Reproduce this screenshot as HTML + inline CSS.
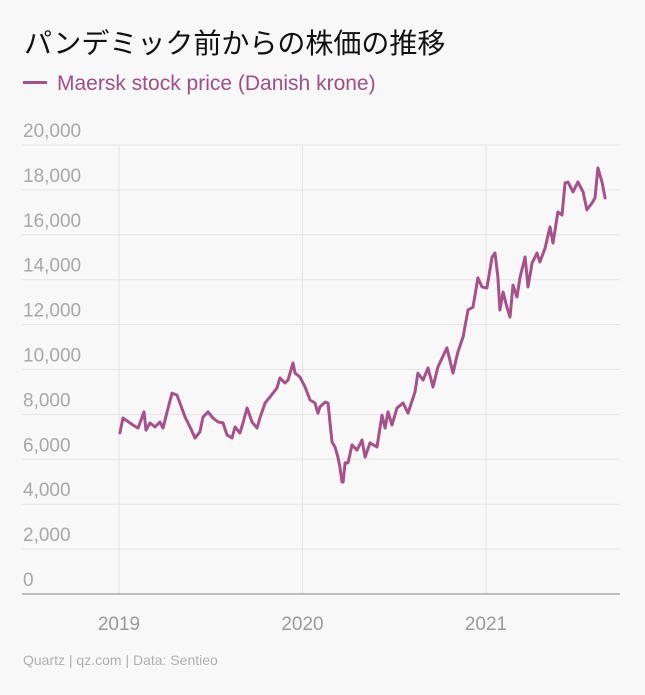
<!DOCTYPE html>
<html><head><meta charset="utf-8"><style>
html,body{margin:0;padding:0;background:#f8f8f8;}
body{width:645px;height:695px;position:relative;overflow:hidden;font-family:"Liberation Sans","Noto Sans CJK JP",sans-serif;}
.title{position:absolute;left:24px;top:22px;font-size:28px;color:#111;font-family:"Liberation Sans","Noto Sans CJK JP",sans-serif;white-space:nowrap;}
.legend{position:absolute;left:23px;top:72px;font-size:21px;color:#a04f86;white-space:nowrap;}
.legend span.sw{display:inline-block;width:24px;height:3px;background:#a8508a;vertical-align:middle;margin-right:10px;position:relative;top:-2px;}
.footer{position:absolute;left:23px;top:652px;font-size:14px;color:#b0b0b0;}
svg{position:absolute;left:0;top:0;}
</style></head><body>
<div class="title">パンデミック前からの株価の推移</div>
<div class="legend"><span class="sw"></span>Maersk stock price (Danish krone)</div>
<svg id="chart" width="645" height="695"></svg>
<div class="footer">Quartz | qz.com | Data: Sentieo</div>
<script>
const yTicks=[0,2000,4000,6000,8000,10000,12000,14000,16000,18000,20000];
const yTickLabels=["0","2,000","4,000","6,000","8,000","10,000","12,000","14,000","16,000","18,000","20,000"];
const xTicks=[2019,2020,2021];
const xTickLabels=["2019","2020","2021"];
const dates=[2019.005,2019.022,2019.076,2019.104,2019.136,2019.147,2019.169,2019.196,2019.223,2019.240,2019.262,2019.289,2019.316,2019.360,2019.387,2019.414,2019.441,2019.458,2019.485,2019.512,2019.540,2019.567,2019.589,2019.616,2019.632,2019.659,2019.676,2019.698,2019.725,2019.752,2019.768,2019.796,2019.823,2019.861,2019.877,2019.905,2019.921,2019.948,2019.959,2019.986,2020.014,2020.041,2020.068,2020.084,2020.095,2020.123,2020.139,2020.161,2020.177,2020.193,2020.204,2020.215,2020.221,2020.232,2020.248,2020.270,2020.297,2020.324,2020.341,2020.368,2020.406,2020.433,2020.450,2020.466,2020.488,2020.515,2020.548,2020.575,2020.613,2020.629,2020.657,2020.684,2020.711,2020.738,2020.787,2020.820,2020.847,2020.875,2020.902,2020.929,2020.956,2020.978,2021.005,2021.033,2021.049,2021.065,2021.076,2021.093,2021.114,2021.131,2021.147,2021.169,2021.185,2021.213,2021.229,2021.251,2021.278,2021.294,2021.322,2021.349,2021.365,2021.392,2021.414,2021.431,2021.447,2021.474,2021.501,2021.529,2021.550,2021.578,2021.594,2021.610,2021.632,2021.649];
const prices=[7170,7840,7530,7390,8110,7300,7620,7440,7660,7390,8110,8950,8860,7880,7440,6950,7220,7880,8110,7840,7660,7620,7080,6950,7440,7170,7620,8290,7660,7390,7840,8510,8780,9180,9620,9400,9530,10290,9840,9670,9220,8640,8510,8060,8330,8550,8510,6770,6550,6100,5660,4990,4990,5840,5840,6640,6410,6860,6100,6730,6550,7970,7390,8110,7530,8290,8510,8060,9000,9840,9530,10070,9220,10110,10960,9840,10780,11450,12650,12780,14080,13680,13630,15010,15190,14120,12650,13450,12780,12340,13760,13230,14080,15010,13680,14750,15190,14790,15410,16350,15630,17020,16880,18310,18350,17910,18350,17910,17110,17420,17640,18980,18350,17640];

const svg=document.getElementById('chart');
const NS='http://www.w3.org/2000/svg';
const X0=22,X1=620,Y0=594,Y20=145;
function yScale(v){return Y0-(v/20000)*(Y0-Y20);}
function xScale(t){return 119+(t-2019)*183.5;}
function mk(tag,attrs){const e=document.createElementNS(NS,tag);for(const k in attrs)e.setAttribute(k,attrs[k]);svg.appendChild(e);return e;}

xTicks.forEach((t,i)=>{
  const l=mk('line',{x1:xScale(t),x2:xScale(t),y1:Y20,y2:Y0,stroke:'#e4e4e4','stroke-width':1});
  
  
  const tx=mk('text',{x:xScale(t),y:630,'text-anchor':'middle','font-size':19,fill:'#9a9a9a','font-family':'Liberation Sans, sans-serif'});
  tx.textContent=xTickLabels[i];
  
  
});
yTicks.forEach((v,i)=>{
  if(v>0){
    const l=mk('line',{x1:X0,x2:X1,y1:yScale(v),y2:yScale(v),stroke:'#e4e4e4','stroke-width':1});
    
    
  }
  const tx=mk('text',{x:23,y:yScale(v)-8,'font-size':19,fill:'#a8a8a8','font-family':'Liberation Sans, sans-serif'});
  tx.textContent=yTickLabels[i];
  
  
});
const base=mk('line',{x1:X0,x2:X1,y1:Y0,y2:Y0,stroke:'#aaaaaa','stroke-width':1.5});



const d=dates.map((t,i)=>(i?'L':'M')+xScale(t).toFixed(1)+','+yScale(prices[i]).toFixed(1)).join(' ');
const p=mk('path',{d:d,fill:'none',stroke:'#a8508a','stroke-width':3,'stroke-linejoin':'round','stroke-linecap':'round'});


</script>
</body></html>
